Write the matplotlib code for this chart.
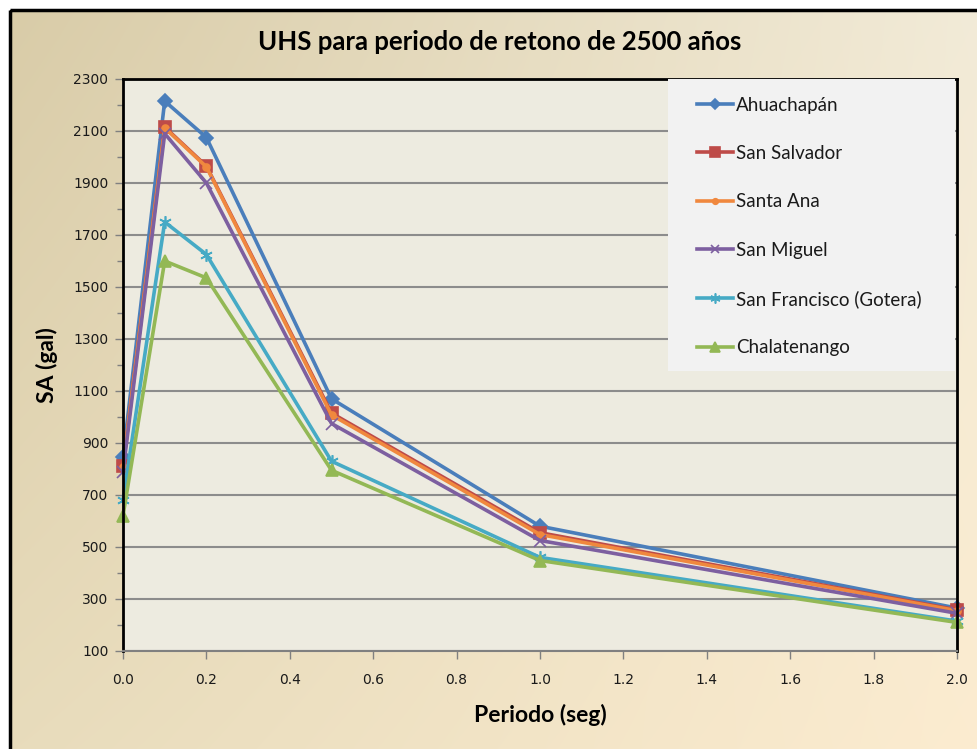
import numpy as np
import matplotlib
matplotlib.use('Agg')
import matplotlib.pyplot as plt
from matplotlib.ticker import MultipleLocator, FormatStrFormatter
from matplotlib.patches import Rectangle

periodo = [0.0, 0.1, 0.2, 0.5, 1.0, 2.0]

ahuachapan = [845, 2215, 2075, 1070, 580, 265]
san_salvador = [810, 2115, 1965, 1015, 555, 258]
santa_ana = [808, 2112, 1962, 1008, 548, 255]
san_miguel = [790, 2090, 1900, 975, 525, 245]
san_francisco = [680, 1750, 1625, 830, 460, 215]
chalatenango = [620, 1600, 1535, 795, 448, 210]

nombres = ['Ahuachapán', 'San Salvador', 'Santa Ana', 'San Miguel',
           'San Francisco (Gotera)', 'Chalatenango']
series = [ahuachapan, san_salvador, santa_ana, san_miguel, san_francisco, chalatenango]
colores = ['#4A7EBB', '#BE4B48', '#F0883E', '#7D5FA0', '#46AAC5', '#93B855']
marcadores = ['D', 's', 'o', 'x', (6, 2, 0), '^']
tam = [7, 9, 5, 8, 9, 9]

W, H = 977, 749
fig = plt.figure(figsize=(W / 100, H / 100), dpi=100)
fig.patch.set_facecolor('white')

# fondo degradado del grafico
bg = fig.add_axes([0, 0, 1, 1], zorder=-10)
bg.set_xlim(0, W)
bg.set_ylim(H, 0)
bg.axis('off')
tl = np.array([217, 204, 168]) / 255
tr = np.array([242, 235, 216]) / 255
bl = np.array([232, 220, 188]) / 255
br = np.array([252, 236, 208]) / 255
u = np.linspace(0, 1, 200)[None, :, None]
v = np.linspace(0, 1, 160)[:, None, None]
grad = (1 - u) * (1 - v) * tl + u * (1 - v) * tr + (1 - u) * v * bl + u * v * br
bg.imshow(grad, extent=[10, W + 5, H + 5, 10], aspect='auto', interpolation='bilinear')
bg.add_patch(Rectangle((9.5, 9.5), W + 20, H + 20, fill=False, edgecolor='black', lw=2.5))

ax = fig.add_axes([123 / W, 98 / H, 834 / W, 572 / H])
ax.set_facecolor('#EDEBE0')

for nom, ys, c, m, s in zip(nombres, series, colores, marcadores, tam):
    ax.plot(periodo, ys, color=c, lw=2.6, marker=m, markersize=s,
            markerfacecolor=c, markeredgecolor=c, markeredgewidth=1.2,
            label=nom, clip_on=False)

ax.set_xlim(0, 2.0)
ax.set_ylim(100, 2300)
ax.xaxis.set_major_locator(MultipleLocator(0.2))
ax.xaxis.set_major_formatter(FormatStrFormatter('%.1f'))
ax.yaxis.set_minor_locator(MultipleLocator(100))
ax.set_yticks(np.arange(100, 2301, 200))
ax.tick_params(axis='both', which='major', direction='out', length=6, width=1,
               color='#808080', labelsize=10, labelcolor='#1a1a1a')
ax.tick_params(axis='y', which='minor', direction='out', length=4, width=1, color='#808080')
ax.tick_params(axis='y', pad=4.5)
ax.tick_params(axis='x', pad=10)
for lab in ax.get_xticklabels() + ax.get_yticklabels():
    lab.set_family('DejaVu Sans')

ax.grid(axis='y', which='major', color='#8C8C8C', lw=1.5)
ax.set_axisbelow(True)
for side in ['left', 'top', 'right']:
    ax.spines[side].set_color('black')
    ax.spines[side].set_linewidth(2)
ax.spines['bottom'].set_color('#808080')
ax.spines['bottom'].set_linewidth(1.5)

ax.set_xlabel('Periodo (seg)', fontsize=16.5, fontweight='bold', family='Lato', labelpad=12)
ax.set_ylabel('SA (gal)', fontsize=16.5, fontweight='bold', family='Lato', labelpad=11)
fig.text(500 / W, 1 - 42 / H, 'UHS para periodo de retono de 2500 años', ha='center',
         va='center', fontsize=18.5, fontweight='bold', family='Lato')

# caja de la leyenda
x0 = (668 - 123) / 834
y0 = (651 - 371) / 572
ax.add_patch(Rectangle((x0, y0), 0.9976 - x0, 1 - y0, transform=ax.transAxes,
                       facecolor='#F2F2F2', edgecolor='none', zorder=4, clip_on=False))
leg = ax.legend(loc='upper left', bbox_to_anchor=((697 - 123) / 834, 0.969), frameon=False,
                prop={'family': 'Lato', 'size': 13.5}, labelspacing=1.67,
                handlelength=1.9, handletextpad=0.2, borderpad=0,
                borderaxespad=0, markerscale=0.8)
leg.set_zorder(5)
for t in leg.get_texts():
    t.set_color('#1a1a1a')

fig.savefig('out.png', dpi=100)
